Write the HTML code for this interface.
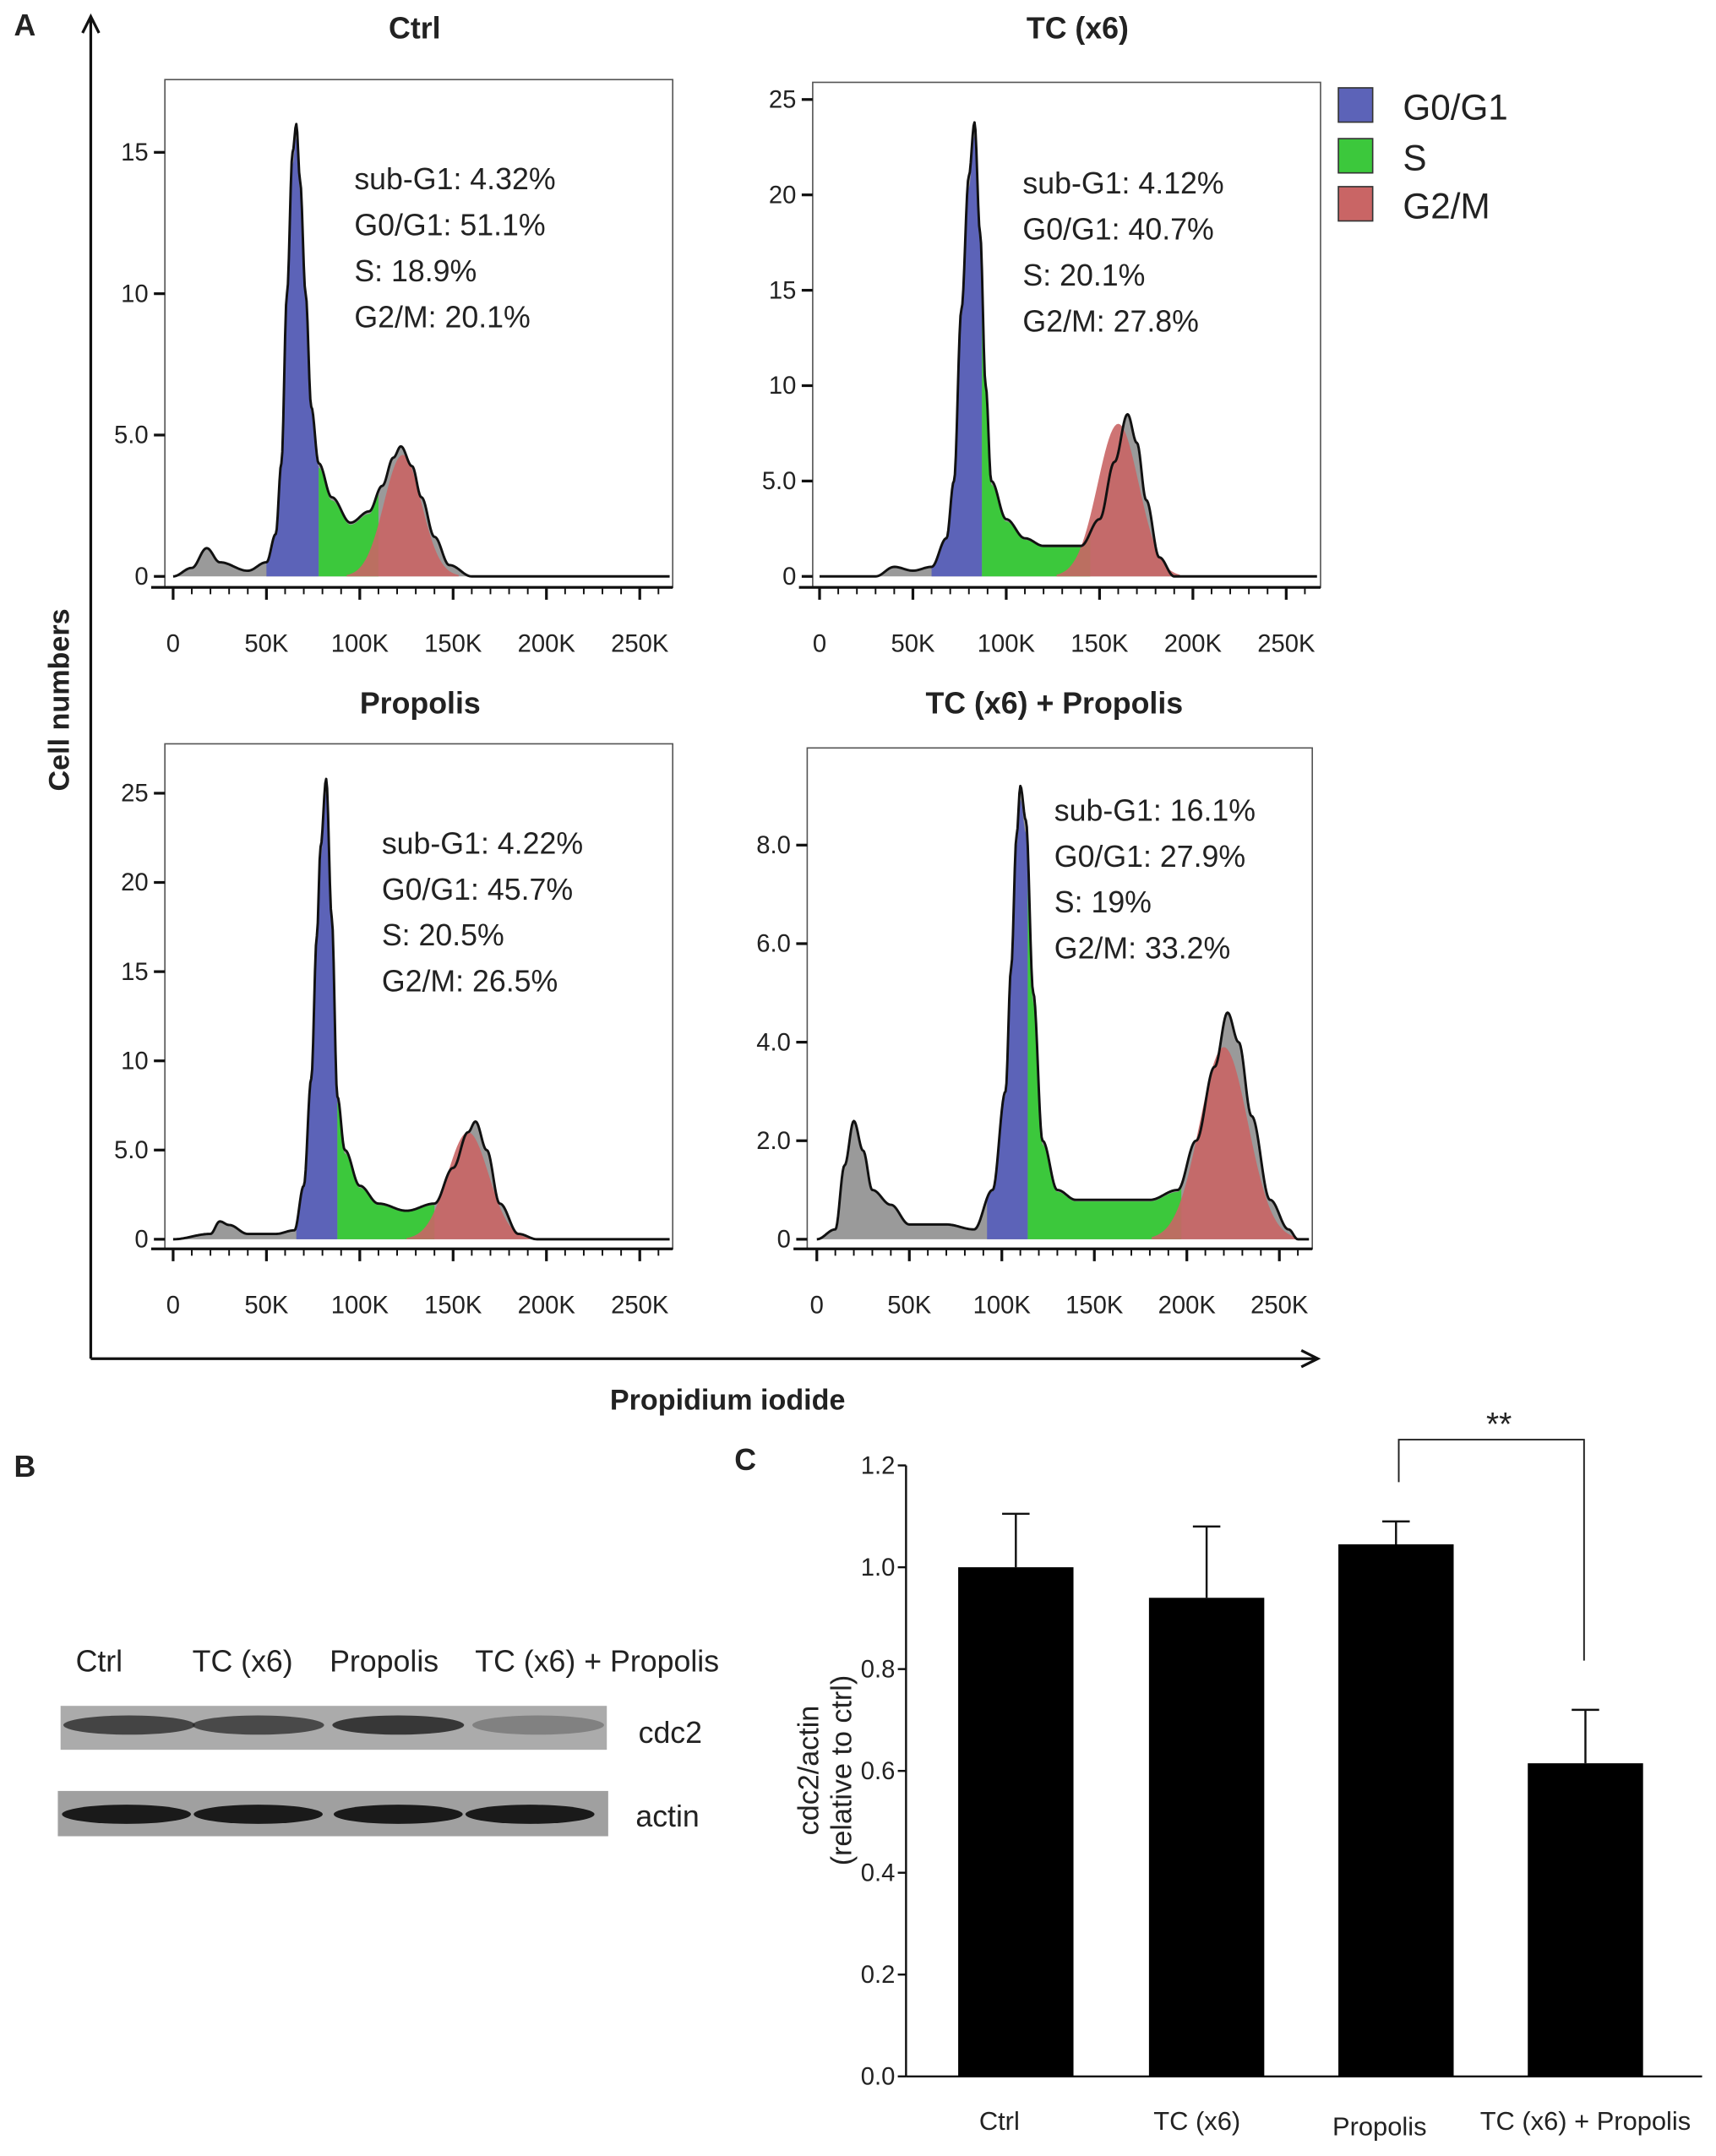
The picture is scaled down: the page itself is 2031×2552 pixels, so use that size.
<!DOCTYPE html>
<html><head><meta charset="utf-8"><style>
html,body{margin:0;padding:0;background:#fff}
svg{display:block}
text{font-family:"Liberation Sans","DejaVu Sans",sans-serif;fill:#222}
</style></head><body>
<svg id="fig" xmlns="http://www.w3.org/2000/svg" width="2031" height="2552" viewBox="0 0 1250 1571">
<g id="root"></g>
</svg>
<script>
// ---- Panel A data ----
const panelTitles = ["Ctrl","TC (x6)","Propolis","TC (x6) + Propolis"];
const ctrlX = [0,10,18,25,40,50,55,58,61,64,66,68,71,74,78,85,95,105,112,118,122,128,133,140,148,160,260];
const ctrlY = [0,0.3,1,0.5,0.2,0.5,1.5,4,10,15,16,14,10,6,4,2.8,1.9,2.3,3.2,4.2,4.6,3.9,2.8,1.4,0.4,0,0];
const tcX = [0,30,40,50,60,68,72,76,80,83,86,89,92,100,110,120,140,150,158,165,170,175,182,190,260];
const tcY = [0,0,0.5,0.3,0.5,2,5,14,21,23.8,18,10,5,3,2,1.6,1.6,3,6,8.5,7,4,1,0,0];
const propX = [0,20,25,30,40,55,65,70,74,77,79,82,85,88,92,100,110,125,140,150,158,162,168,175,185,195,260];
const propY = [0,0.3,1,0.8,0.3,0.3,0.5,3,9,17,22,25.8,18,8,5,3,2,1.6,2,4,6,6.6,5,2,0.3,0,0];
const tcpX = [0,10,15,20,25,30,40,50,70,85,95,102,105,108,110,113,117,122,130,140,160,180,195,205,215,222,228,235,245,255,260];
const tcpY = [0,0.2,1.5,2.4,1.8,1,0.7,0.3,0.3,0.2,1,3,5.5,8.2,9.2,8.5,5,2,1,0.8,0.8,0.8,1,2,3.5,4.6,4,2.5,0.8,0.2,0];
const g1Ranges = [[50,78],[60,87],[66,88],[92,114]];
const sRanges = [[78,110],[87,145],[88,140],[114,197]];
const g2Peak = [123,160,158,220];
const g2Height = [4.3,8,6,3.9];
const g2Sd = [10,11,11,13];
const yTickVals = [[0,5,10,15],[0,5,10,15,20,25],[0,5,10,15,20,25],[0,2,4,6,8]];
const yTickLabels = [["0","5.0","10","15"],["0","5.0","10","15","20","25"],["0","5.0","10","15","20","25"],["0","2.0","4.0","6.0","8.0"]];
const xTickVals = [0,50,100,150,200,250];
const xTickLabels = ["0","50K","100K","150K","200K","250K"];
const statLabels = [
 ["sub-G1: 4.32%","G0/G1: 51.1%","S: 18.9%","G2/M: 20.1%"],
 ["sub-G1: 4.12%","G0/G1: 40.7%","S: 20.1%","G2/M: 27.8%"],
 ["sub-G1: 4.22%","G0/G1: 45.7%","S: 20.5%","G2/M: 26.5%"],
 ["sub-G1: 16.1%","G0/G1: 27.9%","S: 19%","G2/M: 33.2%"]];
// ---- Panel C data ----
const barCats = ["Ctrl","TC (x6)","Propolis","TC (x6) + Propolis"];
const barVals = [1.0,0.94,1.045,0.615];
const barErr = [0.105,0.14,0.045,0.105];
const cTicks = [0,0.2,0.4,0.6,0.8,1.0,1.2];
const cTickLabels = ["0.0","0.2","0.4","0.6","0.8","1.0","1.2"];

const NS="http://www.w3.org/2000/svg";
const root=document.getElementById('root');
function mk(tag,attrs,parent){const e=document.createElementNS(NS,tag);for(const k in attrs)e.setAttribute(k,attrs[k]);(parent||root).appendChild(e);return e;}
function txt(s,x,y,size,opts,parent){const e=mk('text',Object.assign({x:x,y:y,'font-size':size},opts||{}),parent);e.textContent=s;return e;}

const boxes=[
 {x0:120,x1:490,top:58,base:428,px0:126,pxPer:68,y0:420,yPer:20.6},
 {x0:592,x1:962,top:60,base:428,px0:597,pxPer:68,y0:420,yPer:13.9},
 {x0:120,x1:490,top:542,base:910,px0:126,pxPer:68,y0:903,yPer:13.0},
 {x0:588,x1:956,top:545,base:910,px0:595,pxPer:67.4,y0:903,yPer:35.9}];
const titlePos=[[302,28],[785,28],[306,520],[768,520]];
const statPos=[[258,138],[745,141],[278,622],[768,598]];
const allX=[ctrlX,tcX,propX,tcpX], allY=[ctrlY,tcY,propY,tcpY];

function interp(xs,ys,x){for(let i=1;i<xs.length;i++){if(x<=xs[i]){const t=(x-xs[i-1])/(xs[i]-xs[i-1]);const c=(1-Math.cos(Math.PI*t))/2;return ys[i-1]+c*(ys[i]-ys[i-1]);}}return 0;}

for(let p=0;p<4;p++){
 const b=boxes[p];
 const g=mk('g',{});
 
 
 const sx=v=>b.px0+v/50*b.pxPer;
 const sy=v=>b.y0-v*b.yPer;
 const xmaxK=(b.x1-2-b.px0)/b.pxPer*50;
 const t=txt(panelTitles[p],titlePos[p][0],titlePos[p][1],22,{'font-weight':'bold','text-anchor':'middle'},g);
 
 
 const fr=mk('rect',{x:b.x0,y:b.top,width:b.x1-b.x0,height:b.base-b.top,fill:'none',stroke:'#555','stroke-width':1},g);
 
 
 const xs=allX[p], ys=allY[p];
 let d='M'+sx(0)+','+sy(0), dl='';
 for(let x=0;x<=xmaxK;x+=0.5){const pt=sx(x)+','+sy(interp(xs,ys,x));d+=' L'+pt;dl+=(dl?' L':'M')+pt;}
 d+=' L'+sx(xmaxK)+','+sy(0)+' Z';
 const gray=mk('path',{d:d,fill:'#9a9a9a'},g);
 
 
 function region(r,fill,name,scale){let dd='M'+sx(r[0])+','+sy(0);for(let x=r[0];x<=r[1];x+=0.5)dd+=' L'+sx(x)+','+sy(interp(xs,ys,x)*(scale||1));dd+=' L'+sx(r[1])+','+sy(0)+' Z';const e=mk('path',{d:dd,fill:fill},g);}
 region(g1Ranges[p],'#5c63b8','g0g1-fill',0.97);
 region(sRanges[p],'#3cc83c','s-phase-fill',0.96);
 let dr='M'+sx(g2Peak[p]-3*g2Sd[p])+','+sy(0);
 for(let x=g2Peak[p]-3*g2Sd[p];x<=g2Peak[p]+3*g2Sd[p];x+=1){dr+=' L'+sx(x)+','+sy(g2Height[p]*Math.exp(-0.5*Math.pow((x-g2Peak[p])/g2Sd[p],2)));}
 dr+=' L'+sx(g2Peak[p]+3*g2Sd[p])+','+sy(0)+' Z';
 const red=mk('path',{d:dr,fill:'#c96565','fill-opacity':0.9},g);
 
 
 const line=mk('path',{d:dl,fill:'none',stroke:'#111','stroke-width':1.8,'stroke-linejoin':'round'},g);
 
 
 mk('line',{x1:b.x0-10,y1:b.base,x2:b.x1,y2:b.base,stroke:'#111','stroke-width':2},g);
 for(let i=0;i<yTickVals[p].length;i++){
  const y=sy(yTickVals[p][i]);
  mk('line',{x1:b.x0-8,y1:y,x2:b.x0,y2:y,stroke:'#111','stroke-width':2},g);
  const tl=txt(yTickLabels[p][i],b.x0-12,y+6,18,{'text-anchor':'end'},g);
  
  
 }
 for(let v=0;v<=260;v+=10){const x=sx(v);if(x>b.x1)break;const major=v%50===0;mk('line',{x1:x,y1:b.base,x2:x,y2:b.base+(major?9:5),stroke:'#111','stroke-width':major?2:1.2},g);}
 for(let i=0;i<xTickVals.length;i++){
  const tl=txt(xTickLabels[i],sx(xTickVals[i]),b.base+47,18,{'text-anchor':'middle'},g);
  
  
 }
 for(let i=0;i<4;i++){
  const st=txt(statLabels[p][i],statPos[p][0],statPos[p][1]+i*33.5,22,{},g);
  
  
 }
}
const A=txt('A',10,26,22,{'font-weight':'bold'});


mk('path',{d:'M66,990 L66,14 M60,24 L66,12 L72,24',fill:'none',stroke:'#111','stroke-width':2});
mk('path',{d:'M66,990 L958,990 M948,984 L960,990 L948,996',fill:'none',stroke:'#111','stroke-width':2});
const yl=txt('Cell numbers',50,510,21,{'font-weight':'bold','text-anchor':'middle',transform:'rotate(-90 50 510)'});


const xl=txt('Propidium iodide',530,1027,21,{'font-weight':'bold','text-anchor':'middle'});


const legC=['#5c63b8','#3cc83c','#c96565'], legT=['G0/G1','S','G2/M'], legY=[64,101,136];
for(let i=0;i<3;i++){
 const lg=mk('g',{});
 
 
 mk('rect',{x:975,y:legY[i],width:25,height:25,fill:legC[i],stroke:'#333','stroke-width':1},lg);
 txt(legT[i],1022,legY[i]+23,26,{},lg);
}
const B=txt('B',10,1076,22,{'font-weight':'bold'});


const laneX=[55,140,240,346];
for(let i=0;i<4;i++){const l=txt(barCats[i],laneX[i],1218,22,{});}
const blot1=mk('g',{});


mk('rect',{x:44,y:1243,width:398,height:32,fill:'#ababab'},blot1);
const bandC=[[94,0.75],[188,0.72],[290,0.85],[392,0.3]];
bandC.forEach(c=>mk('ellipse',{cx:c[0],cy:1257,rx:48,ry:7,fill:'#222','fill-opacity':c[1]},blot1));
const blot2=mk('g',{});


mk('rect',{x:42,y:1305,width:401,height:33,fill:'#a0a0a0'},blot2);
[92,188,290,386].forEach(x=>mk('ellipse',{cx:x,cy:1322,rx:47,ry:7,fill:'#1a1a1a'},blot2));
txt('cdc2',465,1270,22,{});
txt('actin',463,1331,22,{});
const C=txt('C',535,1071,22,{'font-weight':'bold'});


const cy=v=>1513-v/0.2*74.2;
mk('line',{x1:660,y1:cy(1.2),x2:660,y2:1513,stroke:'#111','stroke-width':1.5});
mk('line',{x1:660,y1:1513,x2:1240,y2:1513,stroke:'#111','stroke-width':1.5});
for(let i=0;i<cTicks.length;i++){
 mk('line',{x1:654,y1:cy(cTicks[i]),x2:660,y2:cy(cTicks[i]),stroke:'#111','stroke-width':1.5});
 const tl=txt(cTickLabels[i],652,cy(cTicks[i])+6,18,{'text-anchor':'end'});
 
 
}
const barL=[698,837,975,1113], catX=[728,872,1005,1155], catY=[1552,1552,1556,1552];
for(let i=0;i<4;i++){
 const r=mk('rect',{x:barL[i],y:cy(barVals[i]),width:84,height:1513-cy(barVals[i]),fill:'#000'});
 
 
 const cx=barL[i]+42;
 const e=mk('path',{d:'M'+cx+','+cy(barVals[i])+' L'+cx+','+cy(barVals[i]+barErr[i])+' M'+(cx-10)+','+cy(barVals[i]+barErr[i])+' L'+(cx+10)+','+cy(barVals[i]+barErr[i]),stroke:'#111','stroke-width':1.5,fill:'none'});
 
 
 const l=txt(barCats[i],catX[i],catY[i],19,{'text-anchor':'middle'});
 
 
}
const cyl=mk('g',{});


txt('cdc2/actin',596,1290,21,{'text-anchor':'middle',transform:'rotate(-90 596 1290)'},cyl);
txt('(relative to ctrl)',620,1290,21,{'text-anchor':'middle',transform:'rotate(-90 620 1290)'},cyl);
const br=mk('path',{d:'M1019,1080 L1019,1049 L1154,1049 L1154,1210',fill:'none',stroke:'#222','stroke-width':1.2});


const st=txt('**',1092,1046,24,{'text-anchor':'middle'});


</script>
</body></html>
